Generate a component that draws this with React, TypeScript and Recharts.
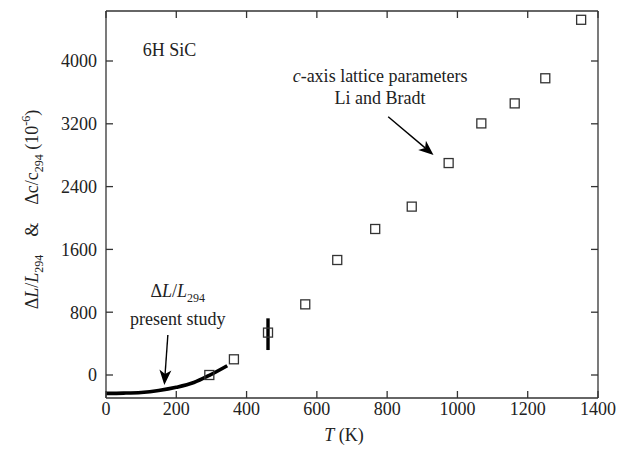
import React from 'react';
import { ComposedChart, XAxis, YAxis, Scatter, Line, ErrorBar, ReferenceLine, ReferenceDot } from 'recharts';

// Li and Bradt c-axis lattice data (squares)
const latticeT = [294, 364, 461, 567, 658, 766, 870, 975, 1068, 1163, 1250, 1352];
const latticeStrain = [0, 200, 540, 900, 1465, 1860, 2145, 2700, 3205, 3460, 3780, 4525];

// dilatometer curve, present study
const dilatT = [0, 50, 100, 150, 200, 250, 294, 345];
const dilatStrain = [-234, -231, -222, -197, -157, -96, -5, 118];

// single vertical error bar
const barT = [461];
const barMid = [520];
const barHalf = [202];

const xTicks = [0, 200, 400, 600, 800, 1000, 1200, 1400];
const yTicks = [0, 800, 1600, 2400, 3200, 4000];

const FONT = 'Liberation Serif';
const INK = '#222';

const latticeData = latticeT.map((t, i) => ({ t, v: latticeStrain[i] }));
const dilatData = dilatT.map((t, i) => ({ t, v: dilatStrain[i] }));
const barData = barT.map((t, i) => ({ t, v: barMid[i], e: barHalf[i] }));

const Square = (p: any) => (
  <rect x={p.cx - 4.5} y={p.cy - 4.5} width={9} height={9} fill="none" stroke="#333" strokeWidth={1.3} />
);

const Nothing = () => <g />;

const Arrow = (p: any) => {
  const { x1, y1, x2, y2 } = p;
  const dx = x2 - x1, dy = y2 - y1;
  const len = Math.hypot(dx, dy);
  const ux = dx / len, uy = dy / len;
  const head = 15, half = 6, notch = 4;
  const bx = x2 - ux * head, by = y2 - uy * head;
  const nx = x2 - ux * (head - notch), ny = y2 - uy * (head - notch);
  const px = -uy, py = ux;
  const pts = [
    [x2, y2],
    [bx + px * half, by + py * half],
    [nx, ny],
    [bx - px * half, by - py * half],
  ].map((q) => q.join(',')).join(' ');
  return (
    <g>
      <line x1={x1} y1={y1} x2={nx} y2={ny} stroke="#000" strokeWidth={1.4} />
      <polygon points={pts} fill="#000" />
    </g>
  );
};

const txt = { fontFamily: FONT, fontSize: 18, fill: INK } as const;

const SiCLabel = (p: any) => (
  <text x={p.cx} y={p.cy} textAnchor="middle" {...txt}>6H SiC</text>
);

const LatticeLabel = (p: any) => (
  <text x={p.cx} y={p.cy} textAnchor="middle" {...txt}>
    <tspan fontStyle="italic">c</tspan>-axis lattice parameters
    <tspan x={p.cx} dy={21.5}>Li and Bradt</tspan>
  </text>
);

const StudyLabel = (p: any) => (
  <text x={p.cx} y={p.cy} textAnchor="middle" {...txt}>
    Δ<tspan fontStyle="italic">L</tspan>/<tspan fontStyle="italic">L</tspan>
    <tspan fontSize={12} dy={5}>294</tspan>
    <tspan x={p.cx} dy={23}>present study</tspan>
  </text>
);

const YTitle = (props: any) => {
  const vb = props.viewBox;
  const x = vb.x - 8;
  const y = vb.y + vb.height / 2 + 5;
  return (
    <text x={x} y={y} transform={`rotate(-90, ${x}, ${y})`} textAnchor="middle" {...txt}>
      Δ<tspan fontStyle="italic">L</tspan>/<tspan fontStyle="italic">L</tspan>
      <tspan fontSize={12} dy={5}>294</tspan>
      <tspan dy={-5}>{'\u00A0\u00A0\u00A0\u00A0&\u00A0\u00A0\u00A0\u00A0Δc/c'}</tspan>
      <tspan fontSize={12} dy={5}>294</tspan>
      <tspan dy={-5}>{'\u00A0(10'}</tspan>
      <tspan fontSize={12} dy={-8}>-6</tspan>
      <tspan dy={8}>)</tspan>
    </text>
  );
};

const XTitle = (props: any) => {
  const vb = props.viewBox;
  return (
    <text x={vb.x + vb.width / 2 - 8} y={vb.y + 43} textAnchor="middle" {...txt}>
      <tspan fontStyle="italic">T</tspan> (K)
    </text>
  );
};

const tickStyle = { fill: INK, fontSize: 18, fontFamily: FONT };
const axisLine = { stroke: '#333', strokeWidth: 1.3 };

export default function App() {
  return (
    <ComposedChart
      width={624}
      height={446}
      margin={{ top: 2, right: 33, bottom: 26, left: 38 }}
      style={{ fontFamily: FONT }}
    >
      <XAxis
        dataKey="t"
        type="number"
        domain={[0, 1400]}
        ticks={xTicks}
        allowDataOverflow
        height={30}
        tickSize={-7}
        tickMargin={11}
        tick={tickStyle}
        axisLine={axisLine}
        tickLine={axisLine}
        label={{ content: XTitle }}
      />
      <XAxis
        xAxisId="top"
        dataKey="t"
        orientation="top"
        type="number"
        domain={[0, 1400]}
        ticks={xTicks}
        allowDataOverflow
        height={1}
        tickSize={-7}
        tick={Nothing}
        axisLine={axisLine}
        tickLine={axisLine}
      />
      <YAxis
        dataKey="v"
        type="number"
        domain={[-293, 4637]}
        ticks={yTicks}
        allowDataOverflow
        width={60}
        tickSize={-7}
        tickMargin={16}
        tick={tickStyle}
        axisLine={axisLine}
        tickLine={axisLine}
        label={{ content: YTitle }}
      />
      <YAxis
        yAxisId="right"
        dataKey="v"
        orientation="right"
        type="number"
        domain={[-293, 4637]}
        ticks={yTicks}
        allowDataOverflow
        width={1}
        tickSize={-7}
        tick={Nothing}
        axisLine={axisLine}
        tickLine={axisLine}
      />
      <Line
        data={dilatData}
        dataKey="v"
        type="monotone"
        stroke="#000"
        strokeWidth={3.6}
        dot={false}
        isAnimationActive={false}
      />
      <Scatter data={barData} dataKey="v" shape={Nothing} isAnimationActive={false}>
        <ErrorBar dataKey="e" direction="y" width={0} stroke="#000" strokeWidth={3.4} isAnimationActive={false} />
      </Scatter>
      <Scatter data={latticeData} dataKey="v" shape={Square} isAnimationActive={false} />
      {/* invisible series so the mirrored top/right frame axes get drawn */}
      <Scatter
        data={latticeData}
        dataKey="v"
        xAxisId="top"
        yAxisId="right"
        shape={Nothing}
        isAnimationActive={false}
      />
      <ReferenceLine segment={[{ x: 803, y: 3290 }, { x: 932, y: 2803 }]} shape={Arrow} />
      <ReferenceLine segment={[{ x: 176, y: 510 }, { x: 166, y: -127 }]} shape={Arrow} />
      <ReferenceDot x={181} y={4064} r={1} shape={SiCLabel} />
      <ReferenceDot x={780} y={3732} r={1} shape={LatticeLabel} />
      <ReferenceDot x={204} y={994} r={1} shape={StudyLabel} />
    </ComposedChart>
  );
}
